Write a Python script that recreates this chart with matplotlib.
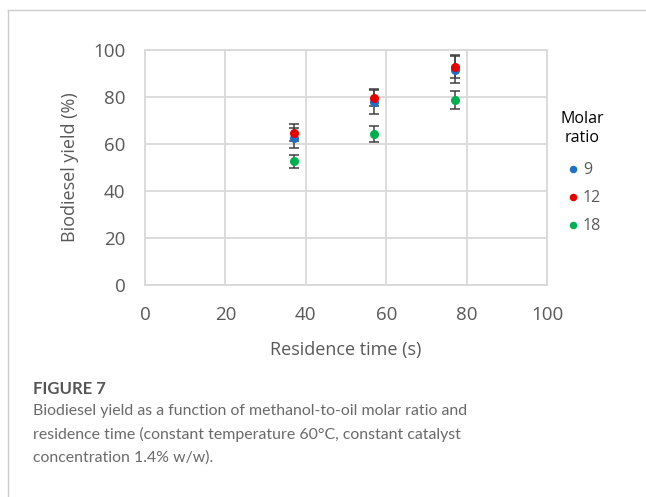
import matplotlib
matplotlib.use('Agg')
from matplotlib import pyplot as plt
from matplotlib.lines import Line2D

# residence time (s) and yields (%)
residence_time = [37, 57, 77]
yield_9 = [62.6, 77.8, 91.7]
err_9 = [4.3, 5.2, 5.8]
yield_12 = [64.8, 79.7, 92.9]
err_12 = [3.5, 3.7, 5.0]
yield_18 = [52.7, 64.3, 78.7]
err_18 = [2.8, 3.4, 4.0]

series = [
    ('9', yield_9, err_9, '#1f6fc8'),
    ('12', yield_12, err_12, '#e60000'),
    ('18', yield_18, err_18, '#00b050'),
]

x_ticks = [0, 20, 40, 60, 80, 100]
y_ticks = [0, 20, 40, 60, 80, 100]

caption_title = 'FIGURE 7'
caption_text = ('Biodiesel yield as a function of methanol-to-oil molar ratio and\n'
                'residence time (constant temperature 60°C, constant catalyst\n'
                'concentration 1.4% w/w).')

plt.rcParams['font.family'] = ['Open Sans', 'DejaVu Sans']

fig = plt.figure(figsize=(6.46, 4.97), dpi=100)
ax = fig.add_axes([145 / 646, 1 - 285 / 497, 402 / 646, 235 / 497])

grid_c = '#d9d9d9'
text_c = '#595959'

for label, yv, ev, color in series:
    ax.errorbar(residence_time, yv, yerr=ev, fmt='none', ecolor='#404040',
                elinewidth=1.1, capsize=3.5, capthick=1.1, zorder=3)
for label, yv, ev, color in series:
    ax.plot(residence_time, yv, 'o', color=color, markersize=5.5,
            label=label, zorder=4, linestyle='none')

ax.set_xlim(0, 100)
ax.set_ylim(0, 100)
ax.set_xticks(x_ticks)
ax.set_yticks(y_ticks)
ax.grid(True, color=grid_c, linewidth=1.3)
ax.set_axisbelow(True)
for sp in ax.spines.values():
    sp.set_color(grid_c)
    sp.set_linewidth(1.3)
ax.tick_params(length=0, labelsize=13.5, labelcolor=text_c)
ax.tick_params(axis='x', pad=15)
ax.tick_params(axis='y', pad=14)

ax.set_xlabel('Residence time (s)', fontsize=13, color=text_c, labelpad=12)
ax.set_ylabel('Biodiesel yield (%)', fontsize=13, color=text_c, labelpad=10)

leg = ax.legend(title='Molar\nratio', loc='upper left', bbox_to_anchor=(0.998, 0.80),
                frameon=False, fontsize=11.5, title_fontsize=11.5, handletextpad=0.0,
                handlelength=1.2, labelspacing=0.75, markerscale=0.8)
for t in leg.get_texts():
    t.set_color(text_c)
leg.get_title().set_multialignment('center')
leg._legend_box.align = 'center'
leg._legend_box.sep = 12

# card frame lines
fig.add_artist(Line2D([8 / 646, 1], [1 - 10 / 497, 1 - 10 / 497], color='#cccccc', linewidth=1))
fig.add_artist(Line2D([8 / 646, 8 / 646], [0, 1 - 10 / 497], color='#cccccc', linewidth=1))

fig.text(33 / 646, 1 - 389 / 497, caption_title, fontsize=12, color='#555555',
         fontweight='bold', va='center', family=['Lato', 'DejaVu Sans'])
fig.text(33 / 646, 1 - 404 / 497, caption_text, fontsize=11.4, color='#6a6a6a',
         va='top', linespacing=1.72, family=['Lato', 'DejaVu Sans'])

fig.savefig('out.png', dpi=100)
